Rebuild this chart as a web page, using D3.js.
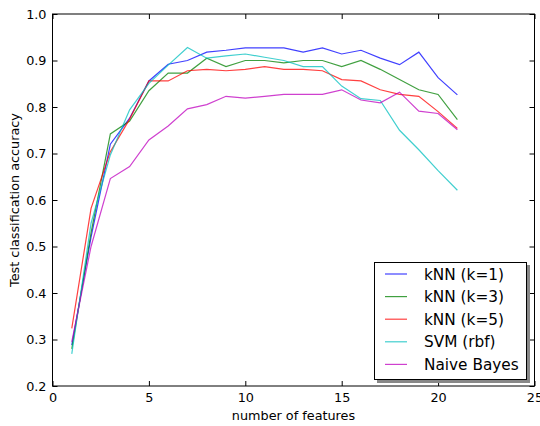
<!DOCTYPE html>
<html>
<head>
<meta charset="utf-8">
<script src="https://cdnjs.cloudflare.com/ajax/libs/d3/7.8.5/d3.min.js"></script>
<style>
  body { margin: 0; background: #fff; }
  svg { font-family: "DejaVu Sans", sans-serif; }
</style>
</head>
<body>
<svg id="chart" width="540" height="426"></svg>
<script>
// data
var nFeatures = [1,2,3,4,5,6,7,8,9,10,11,12,13,14,15,16,17,18,19,20,21];
var knn1  = [0.288,0.52,0.720,0.776,0.856,0.892,0.900,0.918,0.922,0.927,0.927,0.927,0.918,0.927,0.914,0.922,0.905,0.891,0.918,0.863,0.826];
var knn3  = [0.280,0.53,0.742,0.770,0.835,0.873,0.873,0.905,0.887,0.900,0.900,0.895,0.900,0.900,0.887,0.900,0.881,0.859,0.837,0.827,0.773];
var knn5  = [0.324,0.582,0.704,0.774,0.856,0.856,0.878,0.881,0.878,0.881,0.887,0.881,0.881,0.878,0.859,0.856,0.837,0.827,0.823,0.790,0.754];
var svm   = [0.269,0.55,0.697,0.794,0.851,0.890,0.928,0.905,0.910,0.914,0.907,0.900,0.887,0.887,0.845,0.818,0.814,0.750,0.708,0.663,0.621];
var bayes = [0.295,0.50,0.646,0.672,0.729,0.759,0.796,0.805,0.823,0.819,0.823,0.827,0.827,0.827,0.837,0.815,0.809,0.832,0.791,0.786,0.751];

var seriesNames = ["kNN (k=1)", "kNN (k=3)", "kNN (k=5)", "SVM (rbf)", "Naive Bayes"];
var seriesColors = ["#0000ff", "#008000", "#ff0000", "#00bfbf", "#bf00bf"];
var xTicks = [0, 5, 10, 15, 20, 25];
var yTicks = [0.2, 0.3, 0.4, 0.5, 0.6, 0.7, 0.8, 0.9, 1.0];

var series = [knn1, knn3, knn5, svm, bayes];

var svg = d3.select("#chart");
var plotL = 52.5, plotR = 534.5, plotT = 14, plotB = 386;

var x = d3.scaleLinear().domain([0, 25]).range([plotL, plotR]);
var y = d3.scaleLinear().domain([0.2, 1.0]).range([plotB, plotT]);

// lines
var line = d3.line()
    .x(function(d, i) { return x(nFeatures[i]); })
    .y(function(d) { return y(d); });

series.forEach(function(s, k) {
    svg.append("path")
        .datum(s)
        .attr("d", line)
        .attr("fill", "none")
        .attr("stroke", seriesColors[k])
        .attr("stroke-opacity", 0.75)
        .attr("stroke-width", 1.2);
});

// axes, ticks inside on all four sides
function styleAxis(g) {
    g.select(".domain").remove();
    g.selectAll("line").attr("stroke", "#000");
    g.selectAll("text").attr("font-size", "12.8px").attr("fill", "#000")
        .attr("font-family", "DejaVu Sans, sans-serif");
}

svg.append("g")
    .attr("transform", "translate(0," + plotB + ")")
    .call(d3.axisBottom(x).tickValues(xTicks).tickSize(-5).tickPadding(7).tickFormat(d3.format("d")))
    .call(styleAxis);
svg.append("g")
    .attr("transform", "translate(0," + plotT + ")")
    .call(d3.axisTop(x).tickValues(xTicks).tickSize(-5).tickFormat(""))
    .call(styleAxis);
svg.append("g")
    .attr("transform", "translate(" + plotL + ",0)")
    .call(d3.axisLeft(y).tickValues(yTicks).tickSize(-5).tickPadding(6).tickFormat(d3.format(".1f")))
    .call(styleAxis);
svg.append("g")
    .attr("transform", "translate(" + plotR + ",0)")
    .call(d3.axisRight(y).tickValues(yTicks).tickSize(-5).tickFormat(""))
    .call(styleAxis);

svg.append("rect")
    .attr("x", plotL).attr("y", plotT)
    .attr("width", plotR - plotL).attr("height", plotB - plotT)
    .attr("fill", "none").attr("stroke", "#000").attr("stroke-width", 1);

// axis labels
svg.append("text")
    .attr("x", (plotL + plotR) / 2).attr("y", 419.5)
    .attr("text-anchor", "middle").attr("font-size", "12.8px")
    .text("number of features");
svg.append("text")
    .attr("transform", "translate(18.5," + (plotT + plotB) / 2 + ") rotate(-90)")
    .attr("text-anchor", "middle").attr("font-size", "12.8px")
    .text("Test classification accuracy");

// legend
var lg = svg.append("g").attr("transform", "translate(374,262)");
lg.append("rect")
    .attr("x", 3).attr("y", 3).attr("width", 153).attr("height", 118)
    .attr("fill", "#888");
lg.append("rect")
    .attr("x", 0.5).attr("y", 0.5).attr("width", 152).attr("height", 117)
    .attr("fill", "#fff").attr("stroke", "#000").attr("stroke-width", 1);

seriesNames.forEach(function(name, k) {
    var yy = 12 + k * 22.6;
    lg.append("line")
        .attr("x1", 11).attr("x2", 33).attr("y1", yy).attr("y2", yy)
        .attr("stroke", seriesColors[k]).attr("stroke-opacity", 0.75).attr("stroke-width", 1.2);
    lg.append("text")
        .attr("x", 50).attr("y", yy + 5.5)
        .attr("font-size", "15.3px")
        .text(name);
});
</script>
</body>
</html>
